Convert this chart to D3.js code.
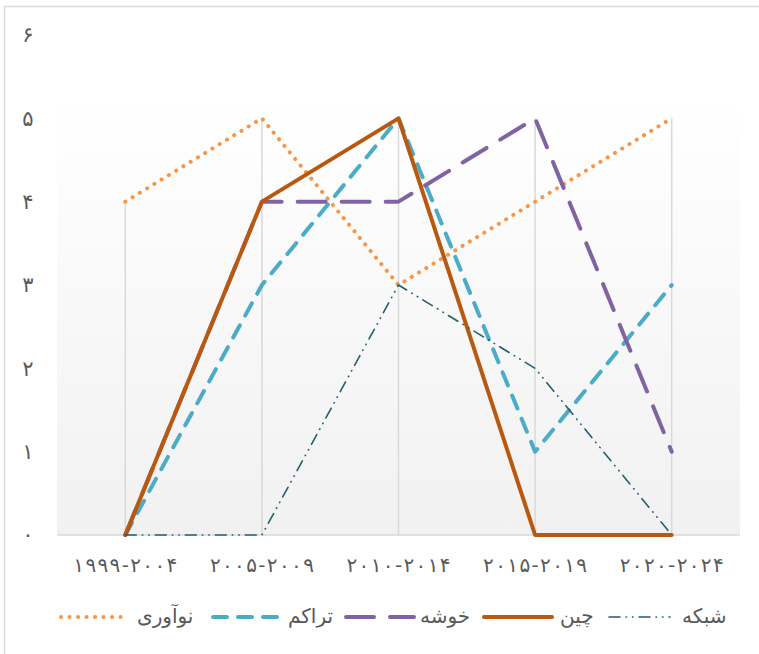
<!DOCTYPE html>
<html>
<head>
<meta charset="utf-8">
<script src="https://cdn.jsdelivr.net/npm/d3@7/dist/d3.min.js"></script>
<style>
  html, body { margin: 0; padding: 0; background: #fff; }
  svg text { font-family: "DejaVu Sans", "Noto Sans", sans-serif; fill: #595959; }
</style>
</head>
<body>
<div id="chart"></div>
<script>
// données du graphique
const categories = ['۱۹۹۹-۲۰۰۴', '۲۰۰۵-۲۰۰۹', '۲۰۱۰-۲۰۱۴', '۲۰۱۵-۲۰۱۹', '۲۰۲۰-۲۰۲۴'];
const yTicks = [0, 1, 2, 3, 4, 5, 6];
const yTickLabels = ['۰', '۱', '۲', '۳', '۴', '۵', '۶'];
const seriesNames = ['نوآوری', 'تراکم', 'خوشه', 'چین', 'شبکه'];
const innovation = [4, 5, 3, 4, 5];
const density = [0, 3, 5, 1, 3];
const cluster = [0, 4, 4, 5, 1];
const china = [0, 4, 5, 0, 0];
const network = [0, 0, 3, 2, 0];

const seriesValues = [innovation, density, cluster, china, network];
const styles = [
  { color: '#f79646', width: 4, dash: '0.1 8.4', cap: 'round' },
  { color: '#4bacc6', width: 4, dash: '14 11', cap: 'round' },
  { color: '#8064a2', width: 4, dash: '28 16', cap: 'round' },
  { color: '#b8590f', width: 4, dash: null, cap: 'round' },
  { color: '#215f6f', width: 1.6, dash: '11 6 0.5 6 0.5 6', cap: 'round' }
];

const width = 759, height = 654;
const svg = d3.select('#chart').append('svg')
  .attr('width', width)
  .attr('height', height);

// cadre extérieur
svg.append('rect')
  .attr('x', 4.5).attr('y', 6.5)
  .attr('width', width + 10).attr('height', height + 10)
  .attr('fill', '#fff')
  .attr('stroke', '#d9d9d9')
  .attr('stroke-width', 1.5);

const plot = { left: 57, right: 740, top: 100, bottom: 535 };

const x = d3.scaleBand()
  .domain(categories)
  .range([plot.left, plot.right]);

const y = d3.scaleLinear()
  .domain([0, 6])
  .range([plot.bottom, 35]);

// fond dégradé de la zone de tracé
const defs = svg.append('defs');
const grad = defs.append('linearGradient')
  .attr('id', 'plotGrad')
  .attr('x1', 0).attr('y1', 0).attr('x2', 0).attr('y2', 1);
grad.append('stop').attr('offset', '0%').attr('stop-color', '#ffffff');
grad.append('stop').attr('offset', '100%').attr('stop-color', '#f1f1f1');

svg.append('rect')
  .attr('x', plot.left)
  .attr('y', plot.top)
  .attr('width', plot.right - plot.left)
  .attr('height', plot.bottom - plot.top)
  .attr('fill', 'url(#plotGrad)');

const cx = d => x(d) + x.bandwidth() / 2;

// lignes de projection (max de chaque catégorie)
svg.append('g')
  .selectAll('line')
  .data(categories)
  .enter()
  .append('line')
  .attr('x1', d => cx(d))
  .attr('x2', d => cx(d))
  .attr('y1', (d, i) => y(d3.max(seriesValues, s => s[i])))
  .attr('y2', y(0))
  .attr('stroke', '#d9d9d9')
  .attr('stroke-width', 1.5);

// axe horizontal
svg.append('line')
  .attr('x1', plot.left).attr('x2', plot.right)
  .attr('y1', y(0)).attr('y2', y(0))
  .attr('stroke', '#d9d9d9')
  .attr('stroke-width', 1.5);

// étiquettes de l'axe Y
svg.append('g')
  .selectAll('text')
  .data(yTicks)
  .enter()
  .append('text')
  .attr('x', 28)
  .attr('y', d => y(d))
  .attr('dy', '0.35em')
  .attr('text-anchor', 'middle')
  .attr('font-size', 21)
  .text((d, i) => yTickLabels[i]);

// étiquettes de l'axe X
svg.append('g')
  .selectAll('text')
  .data(categories)
  .enter()
  .append('text')
  .attr('x', d => cx(d))
  .attr('y', 565)
  .attr('dy', '0.35em')
  .attr('text-anchor', 'middle')
  .attr('direction', 'ltr')
  .attr('font-size', 20)
  .attr('textLength', 104)
  .attr('lengthAdjust', 'spacing')
  .text(d => d);

// séries
const line = d3.line()
  .x((d, i) => cx(categories[i]))
  .y(d => y(d));

svg.append('g')
  .selectAll('path')
  .data(seriesValues)
  .enter()
  .append('path')
  .attr('d', d => line(d))
  .attr('fill', 'none')
  .attr('stroke', (d, i) => styles[i].color)
  .attr('stroke-width', (d, i) => styles[i].width)
  .attr('stroke-dasharray', (d, i) => styles[i].dash)
  .attr('stroke-linecap', (d, i) => styles[i].cap)
  .attr('stroke-linejoin', 'round');

// légende
const legendY = 617;
const legendItems = [
  { x1: 61, x2: 122, tx: 137 },
  { x1: 213, x2: 281, tx: 288 },
  { x1: 346, x2: 414, tx: 420 },
  { x1: 484, x2: 552, tx: 560 },
  { x1: 609, x2: 670, tx: 682 }
];

const legend = svg.append('g');
legendItems.forEach((it, i) => {
  legend.append('line')
    .attr('x1', it.x1).attr('x2', it.x2)
    .attr('y1', legendY).attr('y2', legendY)
    .attr('stroke', styles[i].color)
    .attr('stroke-width', styles[i].width)
    .attr('stroke-dasharray', styles[i].dash)
    .attr('stroke-linecap', styles[i].cap);
  legend.append('text')
    .attr('x', it.tx)
    .attr('y', legendY)
    .attr('dy', '0.3em')
    .attr('text-anchor', 'start')
    .attr('font-size', 20)
    .text(seriesNames[i]);
});
</script>
</body>
</html>
